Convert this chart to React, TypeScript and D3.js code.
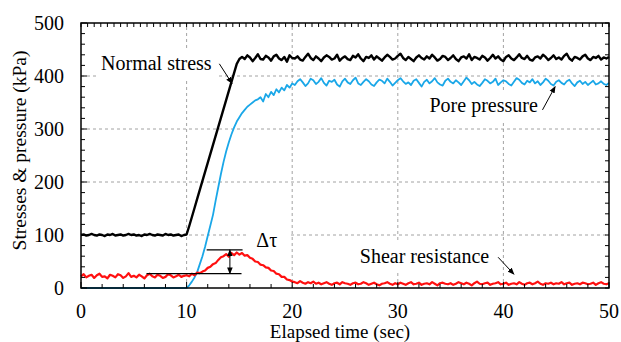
import { useEffect, useRef } from 'react'
import * as d3 from 'd3'

// sample step of the recorded traces (sec)
const STEP = 0.25

// Normal stress (kPa), t = 0 .. 50 every 0.25 s
const normalStress = [
  100, 101, 99, 100, 102, 100, 99, 101, 100, 98, 101, 100, 102, 99, 100, 101, 99, 100, 102, 100,
  101, 99, 100, 98, 101, 100, 102, 100, 99, 101, 100, 99, 102, 100, 101, 99, 100, 101, 98, 100,
  101,
  117, 134, 151, 168, 185, 202, 219, 236, 253, 270, 287, 304, 321, 338, 355, 372, 389, 406, 423, 432,
  436, 432, 439, 435, 428, 434, 441, 432, 431, 438,
  435, 429, 437, 440, 433, 430, 436, 427, 439, 434,
  433, 437, 431, 429, 436, 442, 434, 430, 437, 433,
  428, 435, 439, 436, 431, 433, 440, 429, 434, 437,
  432, 430, 438, 435, 441, 433, 428, 436, 434, 439,
  431, 437, 433, 429, 435, 440, 436, 431, 433, 438,
  442, 434, 430, 436, 432, 428, 435, 439, 434, 431,
  437, 433, 440, 435, 429, 432, 438, 436, 430, 434,
  439, 432, 428, 435, 437, 433, 441, 430, 436, 434,
  431, 438, 435, 429, 434, 440, 433, 437, 431, 428,
  436, 439, 433, 430, 435, 441, 434, 432, 438, 431,
  429, 435, 437, 433, 440, 436, 430, 434, 439, 432,
  435, 431, 438, 442, 433, 429, 436, 434, 431, 437,
  440, 433, 430, 436, 434, 438, 431, 435, 433, 436,
]

// Pore pressure (kPa)
const porePressure = [
  0, 0, 0, 0, 0, 0, 0, 0, 0, 0, 0, 0, 0, 0, 0, 0, 0, 0, 0, 0,
  0, 0, 0, 0, 0, 0, 0, 0, 0, 0, 0, 0, 0, 0, 0, 0, 0, 0, 0, 0,
  0,
  5, 12, 20, 30, 45, 60, 78, 98, 118, 138, 165, 190, 215, 238, 258, 275, 290, 303, 314, 322,
  330, 336, 342, 346, 350, 354, 356, 360, 352, 366, 360, 370, 364, 375, 369, 378, 373, 383, 378, 386,
  383, 390, 394, 388, 381, 386, 395, 392, 385, 389,
  396, 387, 382, 391, 389, 393, 384, 380, 390, 395,
  388, 385, 392, 397, 386, 383, 389, 394, 390, 384,
  381, 388, 393, 391, 386, 395, 389, 382, 387, 392,
  396, 390, 385, 388, 383, 391, 394, 387, 380, 389,
  393, 386, 390, 396, 388, 384, 382, 391, 395, 389,
  386, 392, 388, 383, 390, 397, 392, 385, 389, 384,
  381, 387, 394, 391, 386, 389, 395, 383, 388, 392,
  390, 385, 382, 389, 396, 393, 387, 384, 391, 388,
  394, 386, 390, 383, 388, 395, 391, 385, 382, 389,
  392, 387, 384, 390, 393, 386, 381, 388, 391, 385,
  389, 383, 387, 391, 384, 386, 390, 385, 383, 387,
]

// Shear resistance (kPa)
const shearResistance = [
  22, 26, 20, 23, 25, 19, 24, 27, 21, 22, 18, 25, 23, 20, 26, 24, 19, 22, 28, 21,
  23, 20, 25, 22, 18, 24, 27, 22, 20, 25, 23, 19, 21, 26, 24, 20, 22, 25, 21, 23,
  24,
  22, 27, 24, 29, 28, 31, 33, 38, 40, 45, 47, 53, 58, 60, 64, 59, 66, 62, 67, 63,
  66, 61, 62, 57, 55, 50, 49, 44, 43, 39, 38, 33, 32, 27, 26, 21, 21, 16, 15, 12,
  11, 9, 13, 10, 8, 11, 9, 12, 8, 10,
  7, 9, 11, 8, 6, 9, 10, 7, 11, 9,
  8, 6, 9, 10, 7, 8, 11, 9, 6, 8,
  10, 7, 5, 8, 9, 11, 8, 6, 9, 7,
  10, 8, 6, 9, 11, 7, 8, 10, 6, 8,
  9, 7, 11, 8, 5, 9, 10, 8, 7, 9,
  6, 8, 11, 9, 7, 10, 8, 5, 9, 12,
  8, 7, 9, 10, 6, 8, 9, 11, 7, 8,
  10, 6, 8, 9, 7, 11, 8, 6, 9, 10,
  7, 9, 12, 8, 6, 9, 8, 10, 7, 9,
  8, 11, 7, 9, 10, 6, 8, 9, 7, 10,
  9, 7, 8, 10, 6, 9, 11, 8, 7, 9,
]

const xTicks = [0, 10, 20, 30, 40, 50]
const yTicks = [0, 100, 200, 300, 400, 500]

// label text + anchor (data coords) + arrow from/to (data coords)
const labels = [
  { text: 'Normal stress', t: 1.9, v: 411, w: 112, from: [13.1, 423], to: [14.3, 386] },
  { text: 'Pore pressure', t: 33.0, v: 332, w: 110, from: [43.7, 336], to: [44.9, 380] },
  { text: 'Shear resistance', t: 26.4, v: 47, w: 133, from: [39.5, 58], to: [41.0, 26] },
]

// Δτ marker: baseline / peak lines and the arrow between them
const tauBase = { t0: 6.2, t1: 15.2, v: 27 }
const tauPeak = { t0: 11.9, t1: 15.3, v: 72 }
const tauArrowT = 14.1
const tauLabel = { t: 16.6, v: 77 }

const W = 621
const H = 342
const margin = { left: 81, right: 12, top: 23, bottom: 54 }
const FONT = "'Liberation Serif', 'Times New Roman', Tinos"

export default function App() {
  const svgRef = useRef<SVGSVGElement>(null)

  useEffect(() => {
    if (!svgRef.current) return
    const svg = d3.select(svgRef.current)
    svg.selectAll('*').remove()

    const x = d3.scaleLinear().domain([0, 50]).range([margin.left, W - margin.right])
    const y = d3.scaleLinear().domain([0, 500]).range([H - margin.bottom, margin.top])
    const x0 = x(0), x1 = x(50), y0 = y(0), y1 = y(500)

    svg.append('defs').append('marker')
      .attr('id', 'ah')
      .attr('viewBox', '0 0 10 10')
      .attr('refX', 9).attr('refY', 5)
      .attr('markerWidth', 7).attr('markerHeight', 7)
      .attr('orient', 'auto-start-reverse')
      .append('path').attr('d', 'M0,1 L10,5 L0,9 z').attr('fill', '#000')

    const txt = (sx: number, sy: number, s: string, size: number) =>
      svg.append('text')
        .attr('x', sx).attr('y', sy)
        .attr('font-size', size)
        .style('font-family', FONT)
        .attr('fill', '#000')
        .text(s)

    // 网格
    xTicks.slice(1, -1).forEach(t => {
      svg.append('line').attr('x1', x(t)).attr('x2', x(t)).attr('y1', y0).attr('y2', y1)
        .attr('stroke', '#8c8c8c').attr('stroke-width', 0.8).attr('stroke-dasharray', '3,3')
    })
    yTicks.slice(1, -1).forEach(v => {
      svg.append('line').attr('x1', x0).attr('x2', x1).attr('y1', y(v)).attr('y2', y(v))
        .attr('stroke', '#8c8c8c').attr('stroke-width', 0.8).attr('stroke-dasharray', '3,3')
    })

    // white boxes behind labels
    labels.forEach(l => {
      svg.append('rect').attr('x', x(l.t) - 5).attr('y', y(l.v) - 22)
        .attr('width', l.w + 10).attr('height', 30).attr('fill', '#fff')
    })
    svg.append('rect').attr('x', x(tauLabel.t) - 8).attr('y', y(tauLabel.v) - 18)
      .attr('width', 40).attr('height', 26).attr('fill', '#fff')

    // curves
    const line = d3.line<number>().x((_, i) => x(i * STEP)).y(d => y(d))
    const series: [number[], string, number][] = [
      [porePressure, '#1aa7e8', 1.8],
      [normalStress, '#000', 2.4],
      [shearResistance, '#ff1010', 2.2],
    ]
    series.forEach(([d, c, w]) => {
      svg.append('path').datum(d).attr('fill', 'none').attr('stroke', c)
        .attr('stroke-width', w).attr('stroke-linejoin', 'round').attr('d', line)
    })

    // Δτ
    svg.append('line').attr('x1', x(tauBase.t0)).attr('x2', x(tauBase.t1))
      .attr('y1', y(tauBase.v)).attr('y2', y(tauBase.v)).attr('stroke', '#000').attr('stroke-width', 1.2)
    svg.append('line').attr('x1', x(tauPeak.t0)).attr('x2', x(tauPeak.t1))
      .attr('y1', y(tauPeak.v)).attr('y2', y(tauPeak.v)).attr('stroke', '#000').attr('stroke-width', 1.2)
    svg.append('line').attr('x1', x(tauArrowT)).attr('x2', x(tauArrowT))
      .attr('y1', y(tauPeak.v)).attr('y2', y(tauBase.v)).attr('stroke', '#000').attr('stroke-width', 1)
      .attr('marker-start', 'url(#ah)').attr('marker-end', 'url(#ah)')
    txt(x(tauLabel.t), y(tauLabel.v), 'Δτ', 20)

    // labels + arrows
    labels.forEach(l => {
      txt(x(l.t), y(l.v), l.text, 20)
      svg.append('line').attr('x1', x(l.from[0])).attr('y1', y(l.from[1]))
        .attr('x2', x(l.to[0])).attr('y2', y(l.to[1]))
        .attr('stroke', '#000').attr('stroke-width', 1).attr('marker-end', 'url(#ah)')
    })

    // frame
    svg.append('rect').attr('x', x0).attr('y', y1).attr('width', x1 - x0).attr('height', y0 - y1)
      .attr('fill', 'none').attr('stroke', '#000').attr('stroke-width', 1.5)

    // ticks
    d3.range(0, 50.01, 2).forEach(t => {
      const len = t % 10 === 0 ? 6 : 4
      svg.append('line').attr('x1', x(t)).attr('x2', x(t)).attr('y1', y0).attr('y2', y0 - len)
        .attr('stroke', '#000')
    })
    d3.range(0, 50.01, 0.625).forEach(t => {
      svg.append('line').attr('x1', x(t)).attr('x2', x(t)).attr('y1', y1).attr('y2', y1 + 4)
        .attr('stroke', '#000')
    })
    d3.range(0, 500.01, 20).forEach(v => {
      const len = v % 100 === 0 ? 6 : 4
      svg.append('line').attr('x1', x0).attr('x2', x0 + len).attr('y1', y(v)).attr('y2', y(v)).attr('stroke', '#000')
      svg.append('line').attr('x1', x1).attr('x2', x1 - 4).attr('y1', y(v)).attr('y2', y(v)).attr('stroke', '#000')
    })

    // tick labels
    xTicks.forEach(t => txt(x(t), 318, String(t), 20).attr('text-anchor', 'middle'))
    yTicks.forEach(v => txt(x0 - 17, y(v), String(v), 20).attr('text-anchor', 'end').attr('dy', '0.35em'))

    // axis titles
    txt((x0 + x1) / 2 - 5, 338, 'Elapsed time (sec)', 19).attr('text-anchor', 'middle')
    txt(0, 0, 'Stresses & pressure (kPa)', 19.5)
      .attr('text-anchor', 'middle')
      .attr('transform', `translate(26,${(y0 + y1) / 2 - 5}) rotate(-90)`)
  }, [])

  return (
    <svg ref={svgRef} width={W} height={H}
      style={{ position: 'absolute', left: 0, top: 0, background: '#fff' }} />
  )
}
